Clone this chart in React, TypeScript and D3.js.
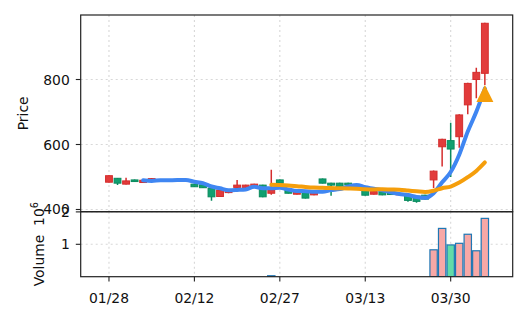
import React from "react";
import * as d3 from "d3";

// ---- data ----
const tickIndex = [0, 10, 20, 30, 40];
const tickLabels = ["01/28", "02/12", "02/27", "03/13", "03/30"];

const opens = [484, 496, 478, 491, 483, 488, 492, 490, 489, 488, 478, 476, 466, 440, 452, 468, 468, 472, 475, 450, 491, 460, 447, 452, 445, 494, 481, 481, 481, 470, 460, 447, 455, 452, 445, 444, 441, 444, 491, 593, 612, 624, 722, 800, 819];
const highs = [505, 497, 498, 492, 491, 496, 493, 491, 490, 491, 479, 477, 467, 461, 461, 491, 476, 479, 476, 522, 492, 461, 456, 453, 453, 495, 482, 482, 482, 478, 461, 456, 456, 453, 449, 445, 442, 445, 520, 618, 667, 693, 790, 836, 975];
const lows = [483, 475, 477, 485, 482, 487, 489, 488, 487, 487, 469, 466, 427, 439, 450, 467, 466, 471, 438, 445, 480, 449, 446, 434, 444, 480, 442, 469, 475, 469, 443, 446, 444, 445, 444, 424, 421, 431, 466, 532, 500, 590, 693, 742, 783];
const closes = [504, 481, 488, 486, 490, 495, 490, 489, 488, 490, 470, 467, 439, 460, 460, 475, 475, 478, 439, 460, 481, 450, 455, 435, 452, 481, 475, 470, 476, 476, 444, 455, 445, 446, 448, 428, 425, 432, 518, 616, 586, 691, 788, 822, 973];
// volume in units of 10^6
const volumes = [0, 0, 0, 0, 0, 0, 0, 0, 0, 0, 0, 0, 0, 0, 0, 0, 0, 0, 0, 0.03, 0, 0, 0, 0, 0, 0, 0, 0, 0, 0, 0, 0, 0, 0, 0, 0, 0, 0, 0.83, 1.49, 0.98, 1.03, 1.31, 0.8, 1.8];
const markerIndex = [44];
const markerValue = [757];
const priceTicks = [400, 600, 800];
const volumeTicks = [1, 2];

// ---- layout ----
const W = 527;
const H = 322;
const L = 80.7;
const R = 512.7;
const mainTop = 15;
const mainBottom = 211.7;
const volTop = 211.7;
const volBottom = 276.7;

const UP_FILL = "#e23b3b";
const UP_EDGE = "#d42d2d";
const DN_FILL = "#10a070";
const DN_EDGE = "#0a8a5e";
const FONT = "'DejaVu Sans', sans-serif";

function sma(arr: number[], n: number): (number | null)[] {
  return arr.map((_, i) => (i < n - 1 ? null : (d3.mean(arr.slice(i - n + 1, i + 1)) as number)));
}

export default function App() {
  const x = d3.scaleLinear().domain([-3.31, 47.26]).range([L, R]);
  const y = d3.scaleLinear().domain([393.2, 998.5]).range([mainBottom, mainTop]);
  const yv = d3.scaleLinear().domain([0, 2.006]).range([volBottom, volTop]);
  const step = x(1) - x(0);
  const bodyW = step * 0.8;
  const volW = step * 0.86;

  const ma5 = sma(closes, 5);
  const ma20 = sma(closes, 20);
  const line = d3
    .line<number | null>()
    .defined((d) => d != null)
    .x((_, i) => x(i))
    .y((d) => y(d as number))
    .curve(d3.curveMonotoneX);

  const grid = { stroke: "#d8d8d8", strokeWidth: 1.1, strokeDasharray: "2,3" };

  return (
    <svg
      width={W}
      height={H}
      style={{ position: "absolute", left: 0, top: 0, background: "#fff" }}
      fontFamily={FONT}
    >
      <defs>
        <clipPath id="mainClip">
          <rect x={L} y={mainTop} width={R - L} height={mainBottom - mainTop} />
        </clipPath>
        <clipPath id="volClip">
          <rect x={L} y={volTop} width={R - L} height={volBottom - volTop} />
        </clipPath>
      </defs>
      <rect x={0} y={0} width={W} height={H} fill="#fff" />

      {/* grids */}
      {tickIndex.map((t) => (
        <g key={"vg" + t}>
          <line x1={x(t)} x2={x(t)} y1={mainTop} y2={mainBottom} {...grid} />
          <line x1={x(t)} x2={x(t)} y1={volTop} y2={volBottom} {...grid} />
        </g>
      ))}
      {priceTicks.map((p) => (
        <line key={"hg" + p} x1={L} x2={R} y1={y(p)} y2={y(p)} {...grid} />
      ))}
      {volumeTicks.map((v) => (
        <line key={"vhg" + v} x1={L} x2={R} y1={yv(v)} y2={yv(v)} {...grid} />
      ))}

      {/* candles */}
      <g clipPath="url(#mainClip)">
        {closes.map((c, i) => {
          const o = opens[i];
          const up = c >= o;
          const top = y(Math.max(o, c));
          const bot = y(Math.min(o, c));
          return (
            <g key={"c" + i}>
              <line
                x1={x(i)}
                x2={x(i)}
                y1={y(highs[i])}
                y2={y(lows[i])}
                stroke={up ? UP_EDGE : DN_EDGE}
                strokeWidth={1.5}
              />
              <rect
                x={x(i) - bodyW / 2}
                y={top}
                width={bodyW}
                height={Math.max(bot - top, 0.8)}
                fill={up ? UP_FILL : DN_FILL}
                stroke={up ? UP_EDGE : DN_EDGE}
                strokeWidth={1}
              />
            </g>
          );
        })}
        <path d={line(ma5) || ""} fill="none" stroke="#3f86f2" strokeWidth={4} strokeLinejoin="round" strokeLinecap="round" />
        <path d={line(ma20) || ""} fill="none" stroke="#f59e0b" strokeWidth={4} strokeLinejoin="round" strokeLinecap="round" />
        {markerIndex.map((mi, k) => {
          const cx = x(mi);
          const cy = y(markerValue[k]);
          const s = 8.5;
          return (
            <path
              key={"m" + k}
              d={`M${cx},${cy - s}L${cx + s},${cy + s}L${cx - s},${cy + s}Z`}
              fill="#f59e0b"
            />
          );
        })}
      </g>

      {/* volume */}
      <g clipPath="url(#volClip)">
        {volumes.map((v, i) =>
          v > 0 ? (
            <rect
              key={"v" + i}
              x={x(i) - volW / 2}
              y={yv(v)}
              width={volW}
              height={yv(0) - yv(v)}
              fill={closes[i] >= opens[i] ? "#f7a8a6" : "#62dba8"}
              stroke="#1f77b4"
              strokeWidth={1.2}
            />
          ) : null
        )}
      </g>

      {/* frames */}
      <rect x={L} y={mainTop} width={R - L} height={mainBottom - mainTop} fill="none" stroke="#222" strokeWidth={1.2} />
      <rect x={L} y={volTop} width={R - L} height={volBottom - volTop} fill="none" stroke="#222" strokeWidth={1.2} />

      {/* price axis */}
      {priceTicks.map((p) => (
        <g key={"pt" + p}>
          <line x1={L - 4.9} x2={L} y1={y(p)} y2={y(p)} stroke="#222" strokeWidth={1.1} />
          <text x={69.8} y={y(p)} dy="0.36em" textAnchor="end" fontSize={13.9} fill="#111">
            {p}
          </text>
        </g>
      ))}
      {volumeTicks.map((v) => (
        <g key={"vt" + v}>
          <line x1={L - 4.9} x2={L} y1={yv(v)} y2={yv(v)} stroke="#222" strokeWidth={1.1} />
          <text x={69.8} y={yv(v)} dy="0.36em" textAnchor="end" fontSize={13.9} fill="#111">
            {v}
          </text>
        </g>
      ))}

      {/* x axis */}
      {tickIndex.map((t, k) => (
        <g key={"xt" + t}>
          <line x1={x(t)} x2={x(t)} y1={volBottom} y2={volBottom + 4.9} stroke="#222" strokeWidth={1.1} />
          <text x={x(t)} y={303} textAnchor="middle" fontSize={13.9} fill="#111">
            {tickLabels[k]}
          </text>
        </g>
      ))}

      {/* axis labels */}
      <text
        transform={`translate(28,${(mainTop + mainBottom) / 2}) rotate(-90)`}
        textAnchor="middle"
        fontSize={13.9}
        fill="#111"
      >
        Price
      </text>
      <text
        transform={`translate(43.5,${(volTop + volBottom) / 2}) rotate(-90)`}
        textAnchor="middle"
        fontSize={13.9}
        fill="#111"
        style={{ whiteSpace: "pre" }}
      >
        <tspan>{"Volume  10"}</tspan>
        <tspan dy={-5.5} fontSize={9.7}>
          6
        </tspan>
      </text>
    </svg>
  );
}
